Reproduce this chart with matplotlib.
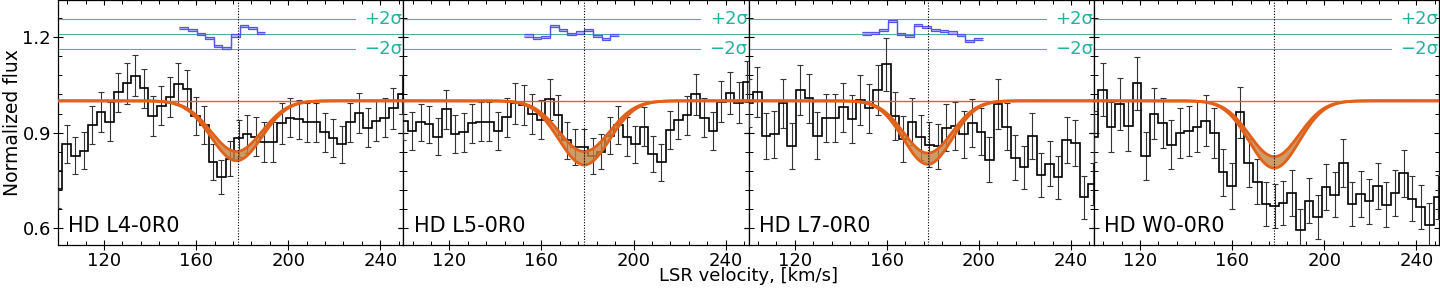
import numpy as np
import matplotlib
matplotlib.use('Agg')
import matplotlib.pyplot as plt
from matplotlib.ticker import MultipleLocator, AutoMinorLocator, FormatStrFormatter

# ---------------- data ----------------
labels = ["HD L4-0R0", "HD L5-0R0", "HD L7-0R0", "HD W0-0R0"]
bin_width = 3.735
vel = 100.0 + bin_width * np.arange(41)

flux_L4 = [0.723, 0.864, 0.828, 0.844, 0.924, 0.964, 0.935, 1.026, 1.055, 1.079,
           1.039, 0.953, 0.985, 1.013, 1.053, 1.036, 0.953, 0.924, 0.808, 0.760,
           0.818, 0.883, 0.896, 0.888, 0.870, 0.870, 0.930, 0.947, 0.942, 0.932,
           0.932, 0.901, 0.883, 0.864, 0.932, 0.961, 0.916, 0.937, 0.947, 0.976,
           1.020]
err_L4 = [0.060, 0.060, 0.058, 0.058, 0.060, 0.062, 0.061, 0.062, 0.065, 0.064,
          0.061, 0.062, 0.062, 0.063, 0.066, 0.062, 0.060, 0.060, 0.056, 0.053,
          0.055, 0.058, 0.060, 0.060, 0.062, 0.062, 0.064, 0.062, 0.062, 0.061,
          0.062, 0.061, 0.060, 0.058, 0.060, 0.062, 0.061, 0.062, 0.062, 0.063,
          0.060]

flux_L5 = [0.938, 0.906, 0.932, 0.926, 0.888, 0.973, 0.896, 0.901, 0.930, 0.935,
           0.935, 0.906, 0.948, 0.992, 0.987, 0.958, 0.940, 1.005, 0.956, 0.877,
           0.855, 0.855, 0.827, 0.841, 0.891, 0.924, 0.888, 0.864, 0.919, 0.834,
           0.807, 0.909, 0.940, 0.954, 1.020, 0.947, 0.906, 0.997, 1.025, 0.994,
           1.060]
err_L5 = [0.060, 0.060, 0.059, 0.059, 0.058, 0.062, 0.060, 0.060, 0.061, 0.062,
          0.061, 0.060, 0.062, 0.064, 0.063, 0.062, 0.061, 0.064, 0.062, 0.058,
          0.056, 0.056, 0.055, 0.056, 0.059, 0.061, 0.060, 0.058, 0.060, 0.057,
          0.057, 0.060, 0.061, 0.062, 0.064, 0.062, 0.060, 0.064, 0.065, 0.064,
          0.065]

flux_L7 = [0.992, 1.028, 0.890, 0.895, 0.992, 0.859, 1.034, 1.008, 0.891, 0.945,
           0.945, 0.980, 0.942, 1.003, 0.976, 1.034, 1.114, 0.952, 0.880, 0.935,
           0.885, 0.862, 0.857, 0.916, 0.921, 0.895, 0.930, 0.903, 0.815, 0.989,
           0.919, 0.822, 0.791, 0.890, 0.768, 0.803, 0.760, 0.877, 0.869, 0.697,
           0.739]
err_L7 = [0.075, 0.078, 0.073, 0.073, 0.076, 0.072, 0.078, 0.077, 0.073, 0.075,
          0.075, 0.077, 0.075, 0.078, 0.076, 0.078, 0.082, 0.075, 0.072, 0.074,
          0.072, 0.071, 0.071, 0.074, 0.074, 0.073, 0.075, 0.074, 0.070, 0.078,
          0.074, 0.070, 0.068, 0.073, 0.068, 0.070, 0.068, 0.073, 0.072, 0.066,
          0.067]

flux_W0 = [0.888, 1.034, 0.917, 0.990, 0.921, 1.055, 0.827, 0.959, 0.930, 0.862,
           0.900, 0.906, 0.919, 0.938, 0.898, 0.776, 0.732, 0.964, 0.805, 0.747,
           0.676, 0.669, 0.680, 0.711, 0.594, 0.687, 0.636, 0.729, 0.706, 0.805,
           0.677, 0.708, 0.685, 0.732, 0.674, 0.711, 0.773, 0.693, 0.667, 0.612,
           0.698]
err_W0 = [0.080, 0.083, 0.078, 0.081, 0.078, 0.083, 0.076, 0.080, 0.079, 0.077,
          0.078, 0.078, 0.079, 0.080, 0.078, 0.074, 0.072, 0.080, 0.075, 0.072,
          0.070, 0.069, 0.070, 0.071, 0.067, 0.070, 0.068, 0.072, 0.071, 0.075,
          0.070, 0.071, 0.070, 0.072, 0.070, 0.071, 0.074, 0.070, 0.069, 0.067,
          0.070]

fluxes = [flux_L4, flux_L5, flux_L7, flux_W0]
errors = [err_L4, err_L5, err_L7, err_W0]

# absorption model band: centre, width, depth (shallow fit), depth (deep fit)
model_center = [177.5, 178.6, 177.8, 178.3]
model_sigma = [11.0, 11.0, 10.5, 10.8]
model_depth_hi = [0.159, 0.159, 0.164, 0.175]
model_depth_lo = [0.188, 0.201, 0.199, 0.211]

v_marker = [178.0, 178.6, 178.0, 178.3]

# residual-like blue step curves near the top (start velocity, values)
blue_start = [152.7, 152.5, 149.3, None]
blue_vals = [
    [1.228, 1.222, 1.209, 1.196, 1.172, 1.165, 1.205, 1.234, 1.229, 1.212],
    [1.205, 1.198, 1.199, 1.234, 1.222, 1.209, 1.214, 1.223, 1.203, 1.193, 1.207],
    [1.211, 1.213, 1.221, 1.250, 1.210, 1.203, 1.237, 1.232, 1.223, 1.218, 1.214,
     1.206, 1.188, 1.193],
    [],
]

sigma_mid = 1.209
sigma_plus = 1.256
sigma_minus = 1.162

# ---------------- plot ----------------
fig, axes = plt.subplots(1, 4, figsize=(14.4, 2.88), dpi=100, sharey=True)
L, R = 0.0403, 0.9995
fig.subplots_adjust(left=L, right=R, top=0.999, bottom=0.1493, wspace=0)

teal_line = '#4cb0a8'
teal_text = '#25b0a0'
orange_edge = '#e2601a'
orange_fill = '#c3823f'

vv = np.linspace(95, 255, 600)
for i, ax in enumerate(axes):
    vel_c = vel
    fl = np.array(fluxes[i])
    er = np.array(errors[i])
    edges = np.concatenate([vel_c - bin_width / 2, [vel_c[-1] + bin_width / 2]])

    # sigma lines
    ax.axhline(sigma_plus, xmax=0.86, color=teal_line, lw=0.8)
    ax.axhline(sigma_mid, color=teal_line, lw=0.8)
    ax.axhline(sigma_minus, xmax=0.86, color=teal_line, lw=0.8)
    ax.text(0.997, sigma_plus, '+2σ', transform=ax.get_yaxis_transform(),
            ha='right', va='center', color=teal_text, fontsize=13)
    ax.text(0.997, sigma_minus, '−2σ', transform=ax.get_yaxis_transform(),
            ha='right', va='center', color=teal_text, fontsize=13)

    # blue step band
    if blue_start[i] is not None:
        bv = np.array(blue_vals[i])
        bedges = blue_start[i] + bin_width * np.arange(len(bv) + 1)
        ax.stairs(bv + 0.0035, bedges, baseline=bv - 0.0035, fill=True,
                  color='#8c8cff', alpha=0.6, lw=0, zorder=3)
        ax.stairs(bv + 0.0035, bedges, baseline=None, color='#5555ee', lw=0.9, zorder=4)
        ax.stairs(bv - 0.0035, bedges, baseline=None, color='#5555ee', lw=0.9, zorder=4)

    # data
    ax.errorbar(vel_c, fl, yerr=er, fmt='none', ecolor='#333333', elinewidth=0.8,
                capsize=2, capthick=0.8, zorder=4)
    ax.stairs(fl, edges, baseline=None, color='black', lw=1.2, zorder=5)

    # model band
    g = np.exp(-(vv - model_center[i]) ** 2 / (2 * model_sigma[i] ** 2))
    hi = 1 - model_depth_hi[i] * g
    lo = 1 - model_depth_lo[i] * g
    ax.fill_between(vv, lo, hi, color=orange_fill, alpha=0.8, lw=0, zorder=6)
    ax.plot(vv, hi, color=orange_edge, lw=2.0, zorder=7)
    ax.plot(vv, lo, color=orange_edge, lw=2.0, zorder=7)
    ax.axhline(1.0, color='#f25c1c', lw=1.0, zorder=7)

    ax.axvline(v_marker[i], color='black', ls=(0, (1, 1.5)), lw=0.8, zorder=8)

    ax.text(0.03, 0.035, labels[i], transform=ax.transAxes, fontsize=15,
            ha='left', va='bottom', zorder=9)

    ax.set_xlim(100, 250)
    ax.xaxis.set_major_locator(MultipleLocator(40))
    ax.xaxis.set_minor_locator(AutoMinorLocator(5))
    ax.yaxis.set_major_locator(MultipleLocator(0.3))
    ax.yaxis.set_minor_locator(AutoMinorLocator(5))
    ax.yaxis.set_major_formatter(FormatStrFormatter('%.1f'))
    ax.tick_params(which='major', direction='inout', length=7, width=0.8,
                   top=True, right=True, labelsize=13, pad=1.5)
    ax.tick_params(which='minor', direction='in', length=3, width=0.7,
                   top=True, right=True)
    ax.tick_params(axis='y', labelleft=(i == 0))
    for s in ax.spines.values():
        s.set_linewidth(0.9)

axes[0].set_ylim(0.548, 1.315)
fig.text(0.009, 0.575, 'Normalized flux', rotation=90, ha='center',
         va='center', fontsize=13.5)
fig.text((L + R) / 2, 0.040, 'LSR velocity, [km/s]', ha='center',
         va='center', fontsize=13)

fig.savefig('out.png', dpi=100)
